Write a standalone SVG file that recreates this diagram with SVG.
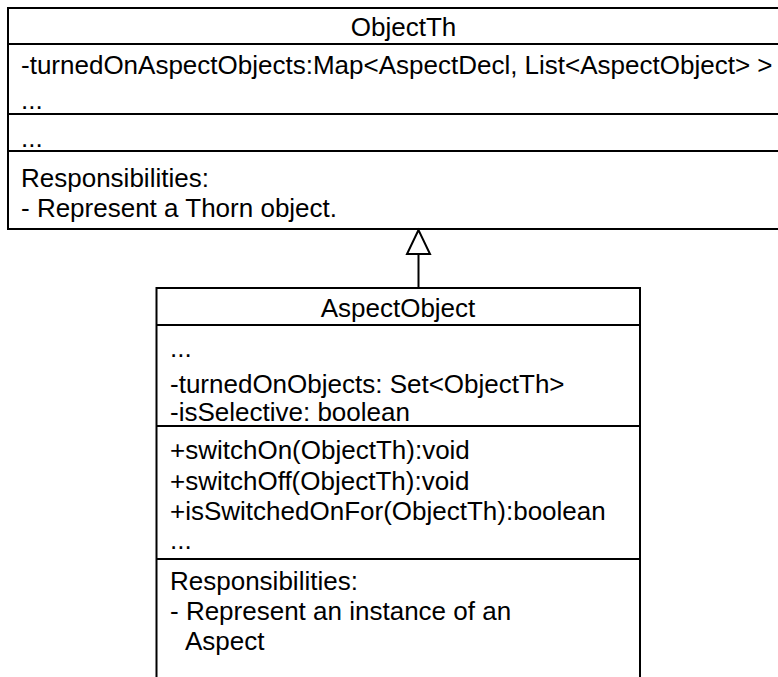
<svg xmlns="http://www.w3.org/2000/svg" width="778" height="677" viewBox="0 0 778 677">
  <style>
    .box { fill: #ffffff; stroke: #000000; stroke-width: 2; }
    .sep { stroke: #000000; stroke-width: 2; }
    .txt { font-family: "Liberation Sans", Arial, sans-serif; font-size: 26px; fill: #000000; }
    .title { text-anchor: middle; }
    .edge { stroke: #000000; stroke-width: 2; fill: none; }
    .head { fill: #ffffff; stroke: #000000; stroke-width: 2; }
  </style>
  <rect width="778" height="677" fill="#ffffff"/>

  <!-- superclass -->
  <g id="ObjectTh">
    <rect class="box" x="8" y="8" width="800" height="221"/>
    <line class="sep" x1="8" y1="44" x2="800" y2="44"/>
    <line class="sep" x1="8" y1="114" x2="800" y2="114"/>
    <line class="sep" x1="8" y1="151" x2="800" y2="151"/>
    <text class="txt title" x="403.5" y="36">ObjectTh</text>
    <text class="txt" x="21" y="74">-turnedOnAspectObjects:Map&lt;AspectDecl, List&lt;AspectObject&gt; &gt;</text>
    <text class="txt" x="21" y="109">...</text>
    <text class="txt" x="21" y="147">...</text>
    <text class="txt" x="21" y="187">Responsibilities:</text>
    <text class="txt" x="21" y="217">- Represent a Thorn object.</text>
  </g>

  <!-- subclass -->
  <g id="AspectObject">
    <rect class="box" x="156.5" y="288" width="483.5" height="420"/>
    <line class="sep" x1="156.5" y1="325" x2="640" y2="325"/>
    <line class="sep" x1="156.5" y1="426" x2="640" y2="426"/>
    <line class="sep" x1="156.5" y1="559" x2="640" y2="559"/>
    <text class="txt title" x="398" y="317">AspectObject</text>
    <text class="txt" x="170" y="357">...</text>
    <text class="txt" x="170" y="393">-turnedOnObjects: Set&lt;ObjectTh&gt;</text>
    <text class="txt" x="170" y="421">-isSelective: boolean</text>
    <text class="txt" x="170" y="459">+switchOn(ObjectTh):void</text>
    <text class="txt" x="170" y="490">+switchOff(ObjectTh):void</text>
    <text class="txt" x="170" y="520">+isSwitchedOnFor(ObjectTh):boolean</text>
    <text class="txt" x="170" y="549">...</text>
    <text class="txt" x="170" y="590">Responsibilities:</text>
    <text class="txt" x="170" y="620">- Represent an instance of an</text>
    <text class="txt" x="185" y="650">Aspect</text>
  </g>

  <!-- generalization -->
  <g id="connectors">
    <line class="edge" x1="418.5" y1="288" x2="418.5" y2="254"/>
    <polygon class="head" points="418.5,230 407,254 430,254"/>
  </g>
</svg>
